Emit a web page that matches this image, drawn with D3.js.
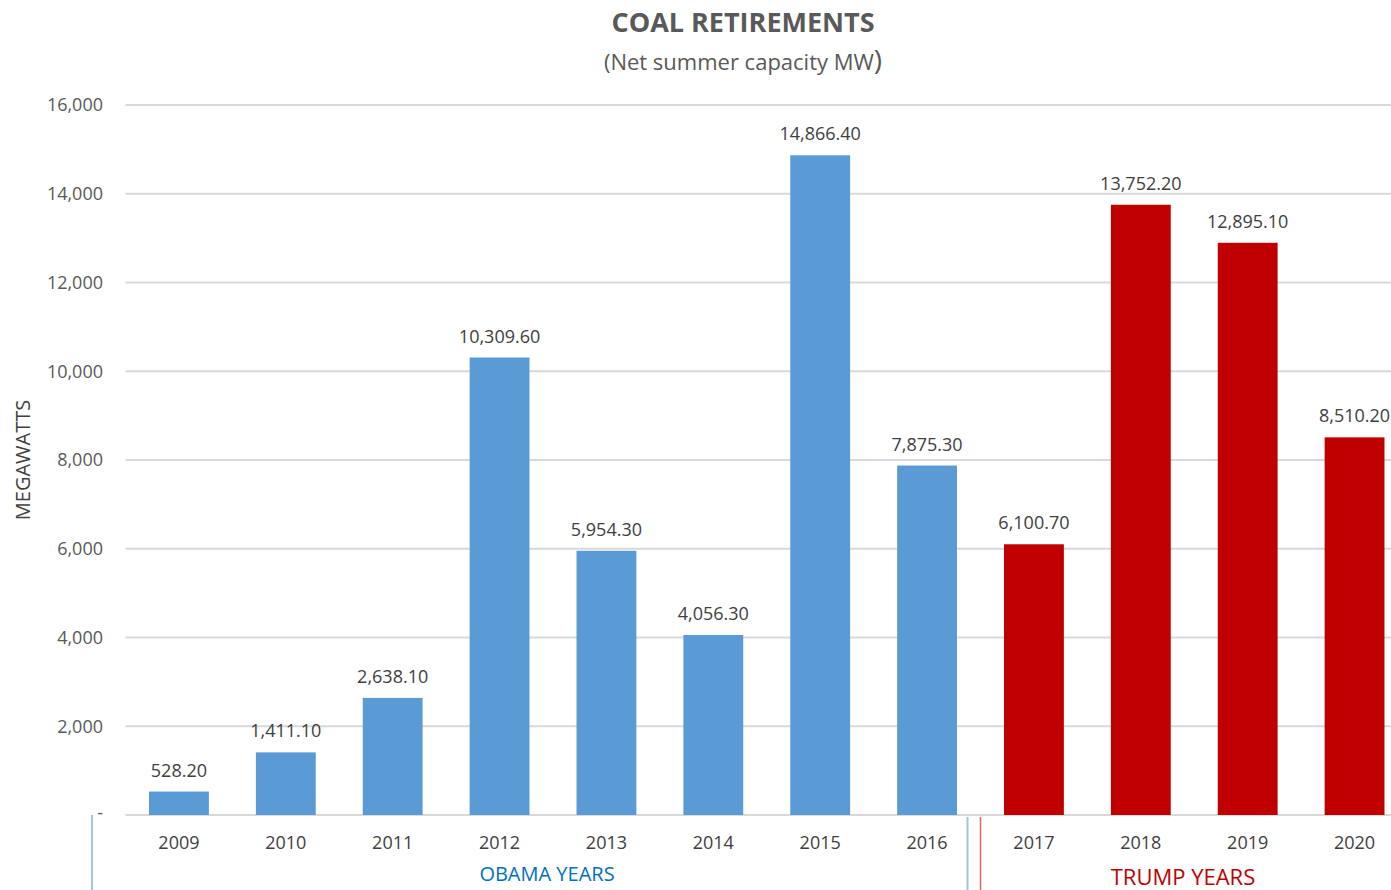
<!DOCTYPE html>
<html><head><meta charset="utf-8">
<script src="https://cdn.jsdelivr.net/npm/d3@7"></script>
<style>body{margin:0;background:#fff;overflow:hidden}svg{display:block}text{font-family:"Open Sans",Lato,sans-serif}</style>
</head><body>
<svg id="c" width="1391" height="890"></svg>
<script>
const years = ["2009","2010","2011","2012","2013","2014","2015","2016","2017","2018","2019","2020"];
const values = [528.2,1411.1,2638.1,10309.6,5954.3,4056.3,14866.4,7875.3,6100.7,13752.2,12895.1,8510.2];
const era = ["obama","obama","obama","obama","obama","obama","obama","obama","trump","trump","trump","trump"];
const yTicks = [0,2000,4000,6000,8000,10000,12000,14000,16000];
const colors = {obama:"#5B9BD5", trump:"#C00000"};

(function(){
const svg = d3.select("#c");
const pL = 125.5, pR = 1408, pT = 105, pB = 815;
const x = d3.scaleBand().domain(years).range([pL,pR]).paddingInner(0.44).paddingOuter(0.22);
const y = d3.scaleLinear().domain([0,16000]).range([pB,pT]);

svg.append("g").selectAll("line").data(yTicks).join("line")
  .attr("x1",pL).attr("x2",1391).attr("y1",d=>y(d)).attr("y2",d=>y(d))
  .attr("stroke","#d9d9d9").attr("stroke-width",2);

svg.append("g").selectAll("text").data(yTicks).join("text")
  .attr("x",103).attr("y",d=>y(d)).attr("dy",d=>d===0?"0.2em":"0.35em")
  .attr("text-anchor","end").attr("fill","#595959").attr("font-size",18)
  .text(d=>d===0?"-":d3.format(",")(d));

svg.append("g").selectAll("rect").data(years).join("rect")
  .attr("x",d=>x(d)).attr("width",x.bandwidth())
  .attr("y",(d,i)=>y(values[i])).attr("height",(d,i)=>y(0)-y(values[i]))
  .attr("fill",(d,i)=>colors[era[i]]);

svg.append("g").selectAll("text").data(years).join("text")
  .attr("x",d=>x(d)+x.bandwidth()/2).attr("y",(d,i)=>y(values[i])-15)
  .attr("text-anchor","middle").attr("fill","#404040").attr("font-size",18)
  .text((d,i)=>d3.format(",.2f")(values[i]));

svg.append("g").selectAll("text").data(years).join("text")
  .attr("x",d=>x(d)+x.bandwidth()/2).attr("y",849)
  .attr("text-anchor","middle").attr("fill","#404040").attr("font-size",18)
  .text(d=>d);

const boundary = (x("2016")+x.bandwidth()+x("2017"))/2;
svg.append("line").attr("x1",92).attr("x2",92).attr("y1",815).attr("y2",890).attr("stroke","#9DC3E6").attr("stroke-width",2);
svg.append("line").attr("x1",boundary-13).attr("x2",boundary-13).attr("y1",817).attr("y2",890).attr("stroke","#9DC3E6").attr("stroke-width",2);
svg.append("line").attr("x1",boundary).attr("x2",boundary).attr("y1",817).attr("y2",890).attr("stroke","#E06666").attr("stroke-width",1.5);

svg.append("text").attr("x",547).attr("y",881).attr("text-anchor","middle").attr("fill","#0070C0").attr("font-size",20).text("OBAMA YEARS");
svg.append("text").attr("x",1183).attr("y",885).attr("text-anchor","middle").attr("fill","#C00000").attr("font-size",22).text("TRUMP YEARS");

svg.append("text").attr("transform","translate(30,460) rotate(-90)").attr("text-anchor","middle")
  .attr("fill","#404040").attr("font-size",20).text("MEGAWATTS");

svg.append("text").attr("x",743).attr("y",32).attr("text-anchor","middle").attr("fill","#595959")
  .attr("font-size",27).attr("font-weight","bold").text("COAL RETIREMENTS");
const sub = svg.append("text").attr("x",743).attr("y",70).attr("text-anchor","middle").attr("fill","#595959").attr("font-size",22);
sub.append("tspan").text("(Net summer capacity MW");
sub.append("tspan").attr("font-size",28).text(")");
})();
</script>
</body></html>
